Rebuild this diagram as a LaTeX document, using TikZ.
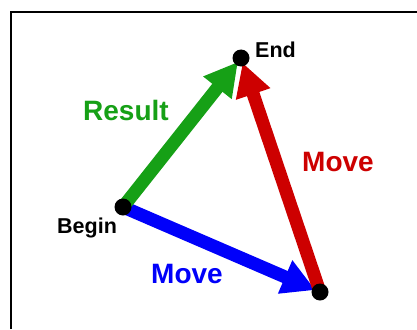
\documentclass[tikz,border=0pt]{standalone}
\usepackage{fontspec}
\setmainfont{Liberation Sans}
\usetikzlibrary{arrows.meta}
\definecolor{resgreen}{RGB}{22,160,22}
\definecolor{movered}{RGB}{205,0,0}
\definecolor{moveblue}{RGB}{0,0,250}
\begin{document}
\begin{tikzpicture}[x=1pt,y=-1pt,line cap=butt,
  vec/.style={line width=13pt,-{Triangle[width=34pt,length=33pt]},shorten >=5pt},
  big/.style={font=\fontsize{28}{28}\selectfont\bfseries,inner sep=0pt,anchor=base west},
  small/.style={font=\fontsize{21.5}{21.5}\selectfont\bfseries,inner sep=0pt,anchor=base west}]
\useasboundingbox (0,0) rectangle (417,329);

% frame (top and left only)
\draw[line width=2pt] (11,329) -- (11,12) -- (417,12);

% the three points
\coordinate (B) at (123,207);
\coordinate (E) at (241,58);
\coordinate (M) at (320,292);

% moves and result
\draw[vec,moveblue] (B) -- (M);
\draw[vec,movered] (M) -- (E);
\draw[vec,resgreen] (B) -- (E);

% dots
\fill (B) circle (8.5);
\fill (E) circle (8.5);
\fill (M) circle (8.5);

% labels
\node[small] (lend) at (255,58) {End};
\node[small] (lbegin) at (57,233) {Begin};
\node[big,text=resgreen] (lres) at (83,120) {Result};
\node[big,text=movered] (lred) at (302,171) {Move};
\node[big,text=moveblue] (lblue) at (151,283) {Move};

\end{tikzpicture}
\end{document}
